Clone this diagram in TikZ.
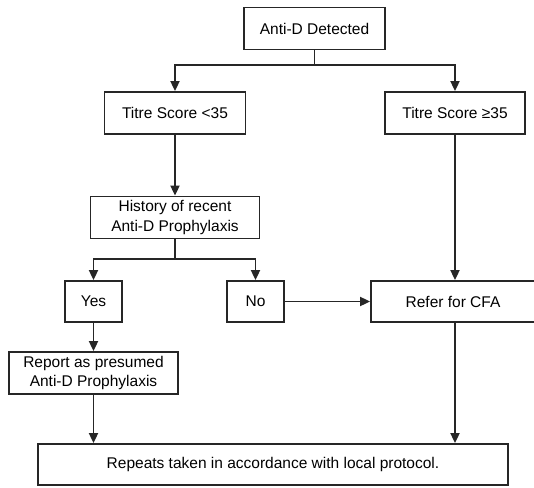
\documentclass[tikz,border=0pt]{standalone}
\usepackage{fontspec}
\setmainfont{Liberation Sans}
\usetikzlibrary{positioning,arrows.meta}

\begin{document}
\begin{tikzpicture}[
    x=1pt, y=-1pt,
    box/.style={rectangle, draw=black!85, line width=1.8pt, minimum height=42pt, align=center, inner sep=2pt, font=\fontsize{15.5}{19.3}\selectfont},
    arrow/.style={-{Triangle[length=10pt, width=9pt]}, line width=1.8pt, draw=black!85},
    link/.style={line width=1.8pt, draw=black!85}
  ]
  \useasboundingbox (0,0) rectangle (534,487);

  \node[box, minimum width=141pt] (antid) at (314.5, 28.5) {Anti-D Detected};
  \node[box, minimum width=141pt] (low) at (175, 113) {Titre Score <35};
  \node[box, minimum width=140pt] (high) at (455, 113) {Titre Score ≥35};
  \node[box, minimum width=169pt] (history) at (175, 217.5) {History of recent\\Anti-D Prophylaxis};
  \node[box, minimum width=57pt, minimum height=41pt] (yes) at (93.5, 301.5) {Yes};
  \node[box, minimum width=57pt, minimum height=41pt] (no) at (255.5, 301.5) {No};
  \node[box, minimum width=164pt, minimum height=41pt] (refer) at (453, 301.5) {Refer for CFA};
  \node[box, minimum width=169pt] (report) at (93.5, 373) {Report as presumed\\Anti-D Prophylaxis};
  \node[box, minimum width=470pt, minimum height=41pt] (repeats) at (273, 464.5) {Repeats taken in accordance with local protocol.};

  \coordinate (split) at (314.5, 65);
  \coordinate (fork) at (175, 259);

  \draw[link] (antid) -- (split);
  \draw[arrow] (split) -| (low);
  \draw[arrow] (split) -| (high);
  \draw[arrow] (low) -- (history);
  \draw[arrow] (high.south) -- (high.south |- refer.north);
  \draw[link] (history) -- (fork);
  \draw[arrow] (fork) -| (yes);
  \draw[arrow] (fork) -| (no);
  \draw[arrow] (no) -- (refer);
  \draw[arrow] (yes) -- (report);
  \draw[arrow] (report.south) -- (report.south |- repeats.north);
  \draw[arrow] (refer.south -| high.south) -- (repeats.north -| high.south);

\end{tikzpicture}
\end{document}
